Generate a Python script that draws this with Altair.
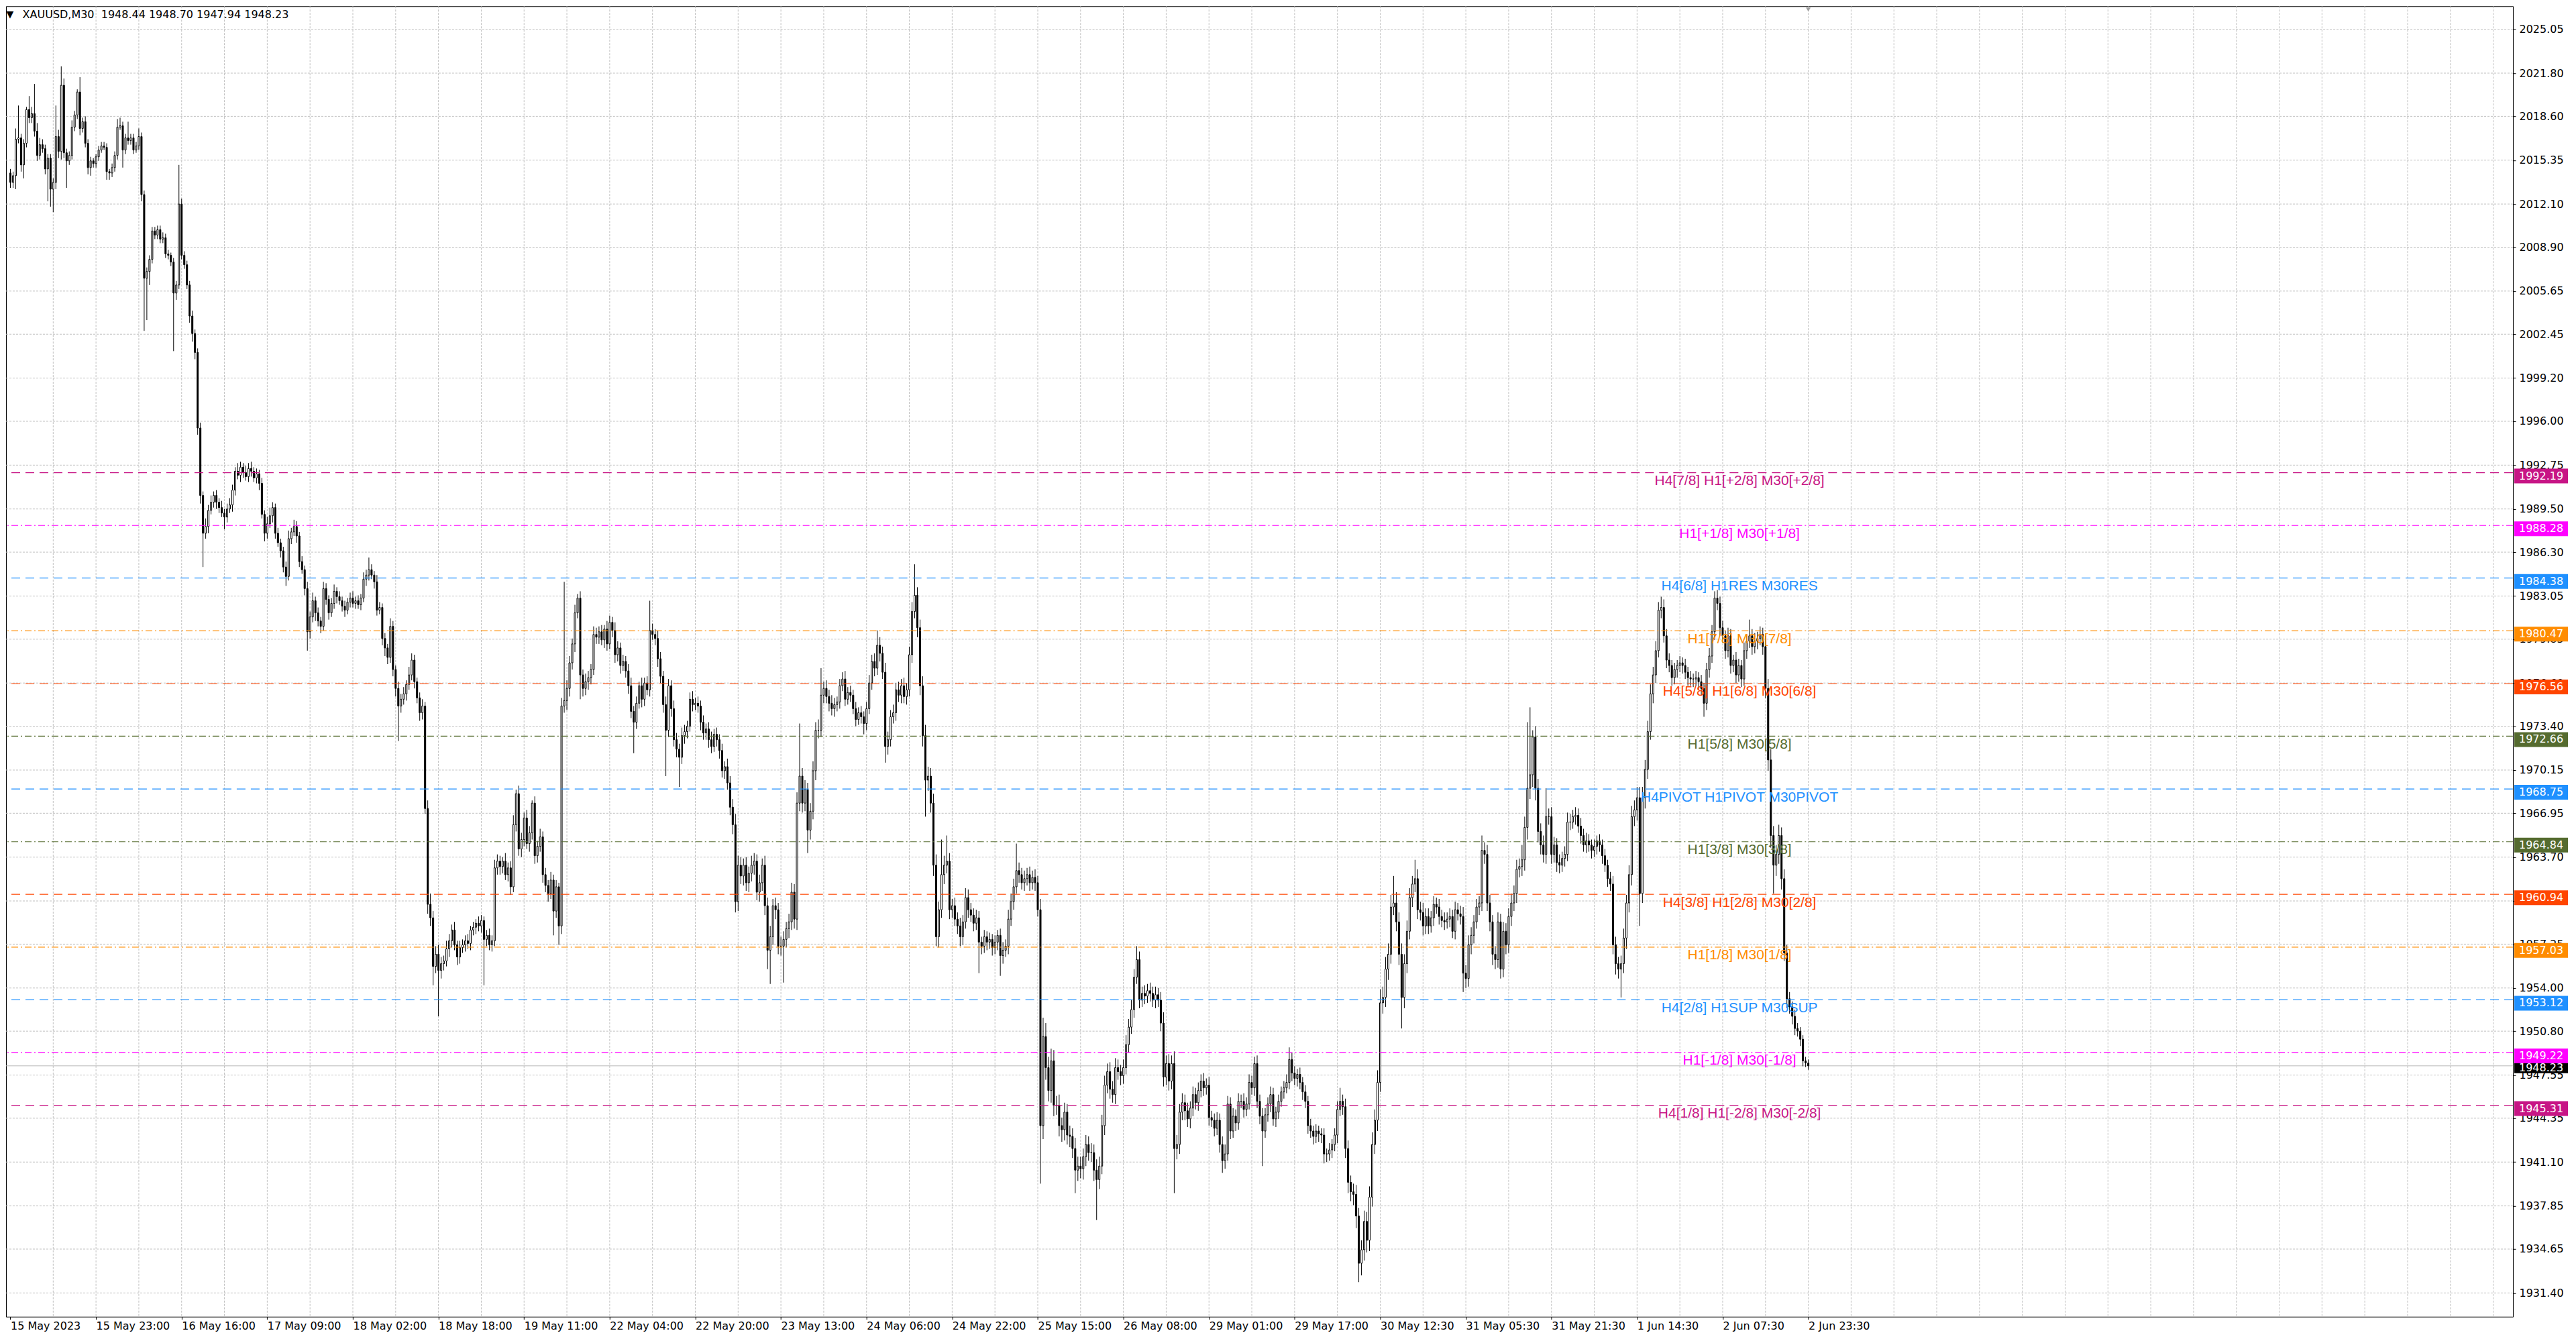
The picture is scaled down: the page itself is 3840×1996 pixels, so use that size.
import json
import altair as alt
import pandas as pd

SYMBOL = "XAUUSD,M30"
LAST_OHLC = [1948.44, 1948.70, 1947.94, 1948.23]
CURRENT_PRICE = 1948.23

TIME_LABELS = ["15 May 2023", "15 May 23:00", "16 May 16:00", "17 May 09:00", "18 May 02:00",
               "18 May 18:00", "19 May 11:00", "22 May 04:00", "22 May 20:00", "23 May 13:00",
               "24 May 06:00", "24 May 22:00", "25 May 15:00", "26 May 08:00", "29 May 01:00",
               "29 May 17:00", "30 May 12:30", "31 May 05:30", "31 May 21:30", "1 Jun 14:30",
               "2 Jun 07:30", "2 Jun 23:30"]

Y_TICKS = [2025.05, 2021.80, 2018.60, 2015.35, 2012.10, 2008.90, 2005.65, 2002.45, 1999.20, 1996.00,
           1992.75, 1989.50, 1986.30, 1983.05, 1979.85, 1976.60, 1973.40, 1970.15, 1966.95, 1963.70,
           1960.45, 1957.25, 1954.00, 1950.80, 1947.55, 1944.35, 1941.10, 1937.85, 1934.65, 1931.40]

FIRST_OPEN = 2014.4
CLOSE = [
    2013.7, 2014.2, 2016.9, 2017.0, 2015.0, 2016.6, 2019.1, 2018.5, 2018.8, 2017.5,
    2015.7, 2016.5, 2016.2, 2014.7, 2015.5, 2013.2, 2013.7, 2017.1, 2016.0, 2020.9,
    2015.9, 2015.3, 2015.7, 2017.8, 2018.7, 2020.4, 2017.7, 2018.2, 2016.6, 2014.8,
    2015.3, 2015.1, 2015.6, 2016.1, 2016.4, 2016.3, 2014.5, 2014.4, 2014.8, 2015.7,
    2017.8, 2017.9, 2016.1, 2017.0, 2016.8, 2017.0, 2016.1, 2016.4, 2017.1, 2012.8,
    2006.6, 2007.1, 2008.0, 2010.1, 2009.8, 2010.2, 2009.5, 2009.6, 2008.4, 2008.3,
    2007.8, 2005.5, 2006.1, 2012.1, 2008.3, 2007.6, 2006.1, 2003.8, 2002.5, 2001.1,
    1995.5, 1990.5, 1987.7, 1988.2, 1989.4, 1990.0, 1990.5, 1990.0, 1989.6, 1989.2,
    1988.9, 1989.5, 1989.8, 1990.9, 1992.3, 1992.0, 1992.6, 1992.2, 1991.9, 1992.5,
    1992.3, 1991.8, 1992.1, 1991.4, 1989.1, 1987.7, 1988.4, 1989.0, 1989.6, 1987.7,
    1987.0, 1986.4, 1985.2, 1984.5, 1987.3, 1987.8, 1988.2, 1987.5, 1985.6, 1985.0,
    1983.6, 1980.4, 1981.5, 1982.7, 1981.8, 1981.2, 1980.8, 1983.6, 1982.8, 1981.8,
    1982.5, 1983.4, 1983.0, 1982.7, 1982.3, 1982.0, 1982.6, 1982.9, 1982.5, 1982.7,
    1982.4, 1982.9, 1984.3, 1984.6, 1985.0, 1984.6, 1984.1, 1982.0, 1982.2, 1979.9,
    1979.2, 1978.5, 1980.8, 1977.6, 1976.2, 1974.9, 1975.4, 1975.8, 1976.5, 1977.2,
    1978.3, 1976.7, 1975.5, 1974.4, 1974.9, 1967.3, 1960.2, 1959.2, 1955.6, 1956.5,
    1955.3, 1955.8, 1956.0, 1956.9, 1957.5, 1958.3, 1957.2, 1956.3, 1957.0, 1957.2,
    1957.5, 1957.3, 1958.3, 1958.5, 1958.8, 1958.6, 1959.0, 1957.6, 1957.9, 1957.2,
    1957.5, 1962.9, 1963.4, 1963.0, 1963.4, 1962.4, 1962.9, 1961.5, 1966.1, 1968.4,
    1964.3, 1965.0, 1966.6, 1964.7, 1965.5, 1967.7, 1963.8, 1964.5, 1965.2, 1962.4,
    1961.6, 1961.0, 1962.0, 1959.7, 1961.5, 1958.6, 1974.9, 1975.3, 1976.2, 1978.1,
    1979.5, 1981.8, 1982.9, 1977.2, 1976.2, 1976.7, 1977.0, 1977.6, 1980.2, 1980.0,
    1980.4, 1979.8, 1980.6, 1979.5, 1981.1, 1980.5, 1978.7, 1979.2, 1977.9, 1978.2,
    1977.5, 1976.4, 1974.5, 1973.7, 1975.1, 1976.4, 1975.4, 1976.6, 1976.1, 1980.5,
    1980.2, 1979.9, 1978.4, 1977.1, 1975.0, 1973.1, 1976.4, 1974.7, 1972.4, 1971.7,
    1971.1, 1972.7, 1973.0, 1973.4, 1975.4, 1975.0, 1975.1, 1974.9, 1973.7, 1972.9,
    1973.2, 1972.4, 1971.9, 1972.8, 1972.4, 1971.6, 1970.1, 1970.4, 1969.2, 1967.4,
    1966.1, 1960.4, 1963.1, 1962.3, 1963.1, 1961.8, 1962.5, 1963.1, 1963.4, 1961.1,
    1961.8, 1963.1, 1960.1, 1956.8, 1957.8, 1960.1, 1959.8, 1957.1, 1957.1, 1957.6,
    1958.4, 1958.9, 1961.1, 1959.1, 1967.7, 1969.7, 1967.7, 1968.7, 1965.7, 1967.1,
    1970.1, 1973.1, 1973.1, 1975.7, 1976.2, 1975.6, 1975.1, 1974.7, 1975.0, 1975.2,
    1976.4, 1976.9, 1975.4, 1975.9, 1975.7, 1974.7, 1973.9, 1974.4, 1974.1, 1973.6,
    1974.7, 1976.6, 1978.2, 1977.7, 1979.4, 1978.8, 1977.4, 1971.9, 1972.4, 1974.1,
    1974.4, 1976.1, 1975.7, 1976.4, 1975.6, 1976.1, 1978.7, 1981.9, 1983.1, 1980.7,
    1976.4, 1972.7, 1969.4, 1969.7, 1967.7, 1963.1, 1957.8, 1959.8, 1962.4, 1963.1,
    1963.4, 1959.8, 1960.1, 1959.1, 1958.6, 1957.8, 1958.9, 1960.7, 1959.8, 1959.4,
    1958.8, 1959.2, 1957.4, 1957.1, 1957.8, 1957.4, 1957.6, 1957.0, 1957.4, 1957.9,
    1956.4, 1956.8, 1957.1, 1959.1, 1960.4, 1961.5, 1962.7, 1962.4, 1961.8, 1962.1,
    1962.4, 1961.8, 1962.2, 1961.8, 1959.8, 1943.8, 1950.4, 1948.1, 1946.4, 1948.6,
    1945.3, 1945.3, 1943.8, 1943.5, 1944.8, 1943.1, 1943.0, 1942.1, 1940.5, 1940.8,
    1940.6, 1941.5, 1942.4, 1941.8, 1941.8, 1940.5, 1939.8, 1940.8, 1943.8, 1946.8,
    1947.8, 1946.5, 1946.1, 1948.1, 1947.8, 1947.5, 1948.1, 1949.8, 1951.1, 1952.4,
    1954.8, 1956.1, 1953.1, 1953.6, 1953.4, 1953.8, 1953.6, 1953.1, 1953.5, 1953.1,
    1951.4, 1947.4, 1948.4, 1947.1, 1948.4, 1942.1, 1942.4, 1944.8, 1945.5, 1944.9,
    1944.3, 1945.1, 1946.1, 1945.5, 1946.4, 1947.1, 1946.6, 1946.8, 1944.4, 1944.2,
    1943.6, 1944.2, 1942.4, 1941.2, 1941.7, 1945.4, 1943.4, 1944.5, 1944.0, 1945.6,
    1945.6, 1945.0, 1945.4, 1947.0, 1946.6, 1948.4, 1945.6, 1944.5, 1943.4, 1944.6,
    1945.4, 1946.1, 1944.3, 1944.8, 1945.6, 1946.3, 1946.6, 1947.0, 1948.7, 1947.7,
    1947.3, 1947.6, 1947.0, 1946.3, 1945.6, 1943.8, 1943.4, 1943.0, 1943.4, 1943.2,
    1943.1, 1941.7, 1941.7, 1942.0, 1942.4, 1943.1, 1945.0, 1945.6, 1945.2, 1942.1,
    1939.6, 1938.9, 1938.7, 1937.1, 1933.6, 1934.6, 1936.7, 1935.3, 1938.5, 1942.4,
    1944.2, 1947.0, 1952.9, 1953.3, 1955.4, 1956.5, 1960.0, 1960.3, 1958.9, 1956.5,
    1953.3, 1955.8, 1958.2, 1960.7, 1961.7, 1962.1, 1959.8, 1959.6, 1958.6, 1959.3,
    1958.6, 1959.2, 1960.2, 1960.0, 1959.3, 1959.0, 1958.9, 1959.1, 1959.3, 1958.2,
    1959.8, 1959.5, 1959.3, 1955.1, 1954.7, 1957.2, 1957.9, 1958.9, 1960.0, 1960.3,
    1964.2, 1963.9, 1960.3, 1958.9, 1956.5, 1956.1, 1958.9, 1955.4, 1958.2, 1957.2,
    1959.3, 1960.3, 1961.0, 1962.8, 1963.0, 1963.5, 1965.9, 1968.8, 1969.8, 1972.6,
    1968.8, 1965.6, 1964.6, 1963.9, 1966.7, 1966.7, 1963.9, 1964.6, 1963.3, 1963.1,
    1963.6, 1963.9, 1966.3, 1966.3, 1966.7, 1966.8, 1966.0, 1965.3, 1964.6, 1964.9,
    1964.6, 1964.2, 1964.5, 1964.9, 1964.6, 1963.8, 1963.1, 1962.1, 1961.7, 1957.2,
    1955.8, 1955.4, 1955.8, 1957.7, 1960.3, 1962.4, 1966.7, 1967.2, 1968.1, 1961.0,
    1968.1, 1970.2, 1973.0, 1975.8, 1977.2, 1979.0, 1982.0, 1982.2, 1980.1, 1978.3,
    1977.9, 1977.0, 1977.6, 1977.9, 1978.1, 1977.9, 1977.4, 1977.0, 1976.9, 1976.9,
    1977.0, 1976.7, 1976.2, 1975.1, 1977.6, 1978.6, 1980.4, 1982.9, 1982.5, 1980.7,
    1980.1, 1979.0, 1980.1, 1977.9, 1978.3, 1977.2, 1977.9, 1976.9, 1979.0, 1979.7,
    1980.1, 1979.3, 1979.7, 1979.9, 1980.2, 1979.3, 1976.2, 1970.9, 1965.3, 1963.1,
    1963.9, 1965.3, 1962.1, 1956.6, 1953.2, 1952.6, 1951.9, 1951.0, 1950.8, 1950.2,
    1948.6, 1948.44, 1948.23,
]

# upper / lower wick lengths, in tenths of a dollar
UP_WICK = [
    3, 3, 8, 24, 3, 3, 2, 10, 5, 22,  6, 5, 4, 3, 3, 3, 3, 23, 5, 14,
    5, 3, 3, 5, 3, 2, 11, 3, 4, 3,  3, 2, 2, 3, 3, 3, 3, 2, 3, 3,
    6, 6, 3, 3, 12, 3, 3, 3, 6, 3,  3, 3, 3, 3, 3, 3, 3, 4, 3, 3,
    2, 3, 3, 29, 4, 3, 3, 3, 4, 3,  3, 4, 3, 6, 4, 5, 3, 4, 3, 5,
    3, 4, 5, 4, 3, 6, 4, 3, 5, 4,  5, 3, 4, 3, 4, 3, 5, 6, 4, 3,
    4, 3, 3, 4, 6, 3, 5, 4, 3, 4,  3, 5, 4, 6, 3, 4, 3, 5, 4, 3,
    4, 5, 3, 4, 3, 4, 3, 4, 5, 3,  4, 3, 5, 4, 9, 4, 3, 5, 4, 3,
    4, 3, 6, 4, 3, 5, 4, 5, 3, 6,  5, 4, 3, 4, 5, 3, 6, 8, 5, 6,
    7, 5, 4, 6, 5, 4, 6, 3, 5, 4,  4, 5, 3, 4, 3, 5, 4, 3, 4, 5,
    4, 6, 5, 4, 3, 6, 4, 5, 7, 3,  6, 5, 4, 6, 5, 2, 5, 4, 6, 4,
    5, 4, 6, 4, 5, 3, 6, 88, 6, 5,  4, 6, 3, 5, 4, 6, 5, 4, 6, 5,
    4, 5, 3, 6, 5, 4, 6, 5, 4, 5,  4, 5, 6, 4, 5, 3, 6, 4, 5, 22,
    5, 4, 6, 5, 4, 6, 5, 4, 6, 5,  4, 6, 5, 4, 5, 6, 4, 5, 4, 5,
    4, 5, 6, 4, 5, 4, 5, 4, 6, 5,  6, 8, 7, 6, 5, 6, 5, 7, 6, 5,
    6, 5, 7, 6, 8, 5, 6, 5, 7, 6,  5, 6, 7, 6, 8, 39, 6, 7, 5, 6,
    7, 6, 8, 20, 5, 6, 5, 6, 5, 4,  5, 5, 6, 4, 5, 4, 5, 4, 5, 4,
    5, 6, 5, 6, 11, 6, 5, 7, 6, 5,  6, 5, 6, 5, 6, 5, 6, 7, 23, 6,
    6, 7, 8, 7, 6, 7, 8, 6, 26, 7,  19, 6, 5, 6, 5, 6, 5, 7, 6, 5,
    5, 6, 5, 4, 5, 4, 5, 4, 5, 4,  5, 6, 5, 7, 6, 6, 20, 6, 5, 6,
    5, 6, 5, 6, 5, 8, 14, 10, 8, 9,  8, 7, 8, 6, 7, 6, 7, 6, 8, 7,
    7, 6, 7, 6, 7, 6, 8, 7, 8, 7,  6, 7, 6, 7, 6, 5, 6, 7, 6, 7,
    6, 10, 6, 5, 6, 5, 6, 5, 6, 5,  6, 8, 6, 7, 6, 9, 7, 6, 7, 6,
    6, 5, 6, 5, 6, 5, 6, 5, 6, 5,  5, 6, 5, 6, 7, 6, 5, 6, 5, 6,
    5, 6, 5, 6, 5, 5, 6, 5, 6, 5,  5, 6, 5, 4, 5, 4, 5, 6, 9, 5,
    5, 4, 5, 4, 5, 4, 5, 4, 5, 4,  4, 5, 4, 5, 4, 5, 6, 10, 5, 6,
    6, 5, 6, 7, 6, 7, 8, 7, 8, 9,  8, 9, 10, 8, 9, 8, 9, 20, 8, 7,
    8, 7, 8, 7, 6, 14, 7, 6, 7, 6,  6, 5, 6, 5, 6, 5, 6, 5, 6, 5,
    6, 5, 6, 7, 6, 7, 6, 5, 6, 5,  11, 6, 7, 6, 5, 6, 7, 6, 7, 6,
    6, 7, 6, 7, 6, 11, 8, 49, 50, 5,  8, 7, 6, 7, 21, 6, 7, 6, 5, 6,
    5, 6, 7, 6, 5, 6, 5, 6, 5, 6,  5, 4, 5, 4, 5, 4, 5, 4, 5, 6,
    6, 5, 6, 7, 6, 7, 8, 7, 8, 8,  8, 7, 8, 7, 6, 7, 6, 8, 6, 5,
    5, 4, 5, 4, 5, 4, 5, 4, 5, 4,  5, 4, 5, 4, 5, 6, 5, 5, 6, 5,
    5, 4, 6, 5, 4, 6, 5, 4, 6, 5,  12, 5, 6, 5, 6, 5, 8, 7, 8, 7,
    7, 8, 6, 7, 6, 5, 4, 5, 4, 3,  3, 3, 3,
]
DN_WICK = [
    4, 4, 10, 3, 5, 10, 3, 4, 4, 4,  4, 3, 3, 4, 24, 13, 17, 5, 5, 6,
    4, 20, 3, 3, 3, 3, 5, 3, 3, 5,  6, 3, 3, 3, 2, 2, 6, 5, 3, 3,
    3, 2, 13, 3, 3, 3, 3, 2, 3, 5,  39, 31, 10, 3, 3, 3, 3, 3, 3, 3,
    3, 43, 5, 3, 3, 3, 3, 5, 6, 5,  5, 6, 25, 4, 5, 3, 4, 5, 4, 3,
    9, 4, 3, 5, 4, 3, 5, 4, 3, 4,  4, 3, 4, 5, 3, 6, 4, 3, 5, 4,
    3, 5, 4, 7, 3, 4, 3, 5, 4, 3,  5, 14, 5, 4, 6, 4, 5, 3, 4, 5,
    3, 4, 5, 3, 4, 5, 3, 4, 3, 4,  3, 4, 3, 5, 4, 3, 5, 4, 3, 5,
    6, 5, 4, 5, 6, 26, 5, 4, 5, 4,  4, 5, 4, 6, 5, 4, 7, 6, 14, 5,
    34, 6, 5, 4, 6, 5, 4, 6, 5, 4,  5, 4, 5, 4, 5, 4, 5, 34, 5, 4,
    5, 4, 5, 6, 5, 4, 5, 6, 4, 5,  5, 6, 5, 4, 6, 5, 6, 5, 4, 6,
    5, 6, 4, 18, 5, 14, 6, 5, 7, 6,  5, 6, 4, 18, 6, 5, 6, 5, 4, 5,
    5, 4, 6, 5, 4, 5, 6, 5, 6, 4,  5, 6, 5, 23, 5, 4, 6, 5, 4, 5,
    4, 5, 6, 5, 6, 34, 5, 6, 5, 6,  22, 5, 6, 5, 4, 5, 4, 5, 6, 5,
    5, 6, 5, 4, 5, 6, 5, 6, 5, 6,  7, 8, 7, 6, 7, 6, 7, 6, 7, 6,
    7, 6, 7, 14, 25, 6, 7, 6, 7, 27,  6, 7, 6, 7, 8, 6, 7, 6, 17, 7,
    6, 7, 6, 5, 6, 5, 6, 5, 6, 5,  5, 4, 5, 4, 5, 4, 5, 4, 5, 8,
    5, 4, 5, 6, 5, 6, 5, 12, 6, 5,  5, 6, 5, 6, 5, 6, 5, 6, 5, 7,
    7, 8, 27, 8, 7, 8, 7, 8, 6, 7,  6, 7, 6, 5, 6, 7, 6, 5, 6, 5,
    6, 5, 23, 6, 5, 6, 5, 6, 5, 6,  15, 6, 5, 6, 5, 6, 5, 6, 5, 6,
    5, 6, 5, 6, 5, 43, 10, 9, 8, 9,  8, 7, 8, 9, 8, 7, 8, 7, 17, 8,
    7, 8, 7, 6, 7, 8, 30, 7, 6, 7,  6, 7, 6, 7, 6, 7, 6, 5, 6, 5,
    6, 5, 6, 5, 6, 5, 6, 5, 6, 5,  6, 7, 6, 7, 6, 33, 8, 7, 6, 7,
    6, 7, 6, 5, 6, 5, 6, 5, 6, 5,  6, 5, 6, 9, 6, 5, 6, 5, 6, 5,
    5, 6, 5, 4, 5, 6, 5, 6, 26, 5,  5, 6, 5, 6, 5, 4, 5, 4, 5, 6,
    5, 6, 5, 6, 5, 6, 5, 6, 5, 6,  6, 7, 6, 5, 6, 5, 6, 5, 6, 7,
    8, 7, 8, 9, 14, 9, 8, 9, 8, 7,  7, 8, 7, 8, 7, 8, 7, 6, 7, 8,
    23, 8, 7, 6, 7, 6, 7, 6, 7, 6,  6, 5, 6, 5, 6, 5, 6, 5, 6, 5,
    6, 5, 6, 14, 7, 6, 7, 6, 5, 6,  6, 7, 6, 7, 8, 7, 6, 7, 6, 7,
    6, 7, 6, 7, 6, 7, 8, 9, 8, 9,  9, 8, 7, 6, 7, 6, 7, 6, 7, 6,
    5, 6, 5, 6, 5, 6, 5, 6, 5, 6,  5, 6, 5, 6, 5, 6, 5, 6, 5, 7,
    8, 7, 21, 7, 8, 7, 8, 7, 8, 24,  7, 8, 7, 6, 7, 6, 5, 6, 5, 6,
    5, 6, 5, 6, 5, 6, 5, 6, 5, 6,  5, 6, 5, 10, 5, 6, 5, 6, 5, 6,
    5, 6, 5, 6, 5, 6, 5, 6, 5, 6,  5, 6, 5, 6, 5, 6, 7, 8, 9, 21,
    8, 7, 8, 6, 7, 5, 6, 5, 4, 5,  4, 3, 3,
]

LEVEL_PRICE = [1992.19, 1988.28, 1984.38, 1980.47, 1976.56, 1972.66, 1968.75,
               1964.84, 1960.94, 1957.03, 1953.12, 1949.22, 1945.31]
LEVEL_TEXT = ["H4[7/8] H1[+2/8] M30[+2/8]", "H1[+1/8] M30[+1/8]", "H4[6/8] H1RES M30RES",
              "H1[7/8] M30[7/8]", "H4[5/8] H1[6/8] M30[6/8]", "H1[5/8] M30[5/8]",
              "H4PIVOT H1PIVOT M30PIVOT", "H1[3/8] M30[3/8]", "H4[3/8] H1[2/8] M30[2/8]",
              "H1[1/8] M30[1/8]", "H4[2/8] H1SUP M30SUP", "H1[-1/8] M30[-1/8]",
              "H4[1/8] H1[-2/8] M30[-2/8]"]
LEVEL_COLOR = ["#C71585", "#FF00FF", "#1E90FF", "#FF8C00", "#FF4500", "#556B2F", "#1E90FF",
               "#556B2F", "#FF4500", "#FF8C00", "#1E90FF", "#FF00FF", "#C71585"]
LEVEL_STYLE = ["dash", "dashdot", "dash", "dashdot", "dash", "dashdot", "dash",
               "dashdot", "dash", "dashdot", "dash", "dashdot", "dash"]

# ---------------- layout ----------------
W, H = 3738, 1954
BAR_PX = 4
X0 = -0.375
X_DOMAIN = [X0, X0 + W / BAR_PX]
Y_DOMAIN = [1929.64, 2026.76]
LABEL_BAR = 646.3
LABEL_STEP = 32
GRID_STEP = 16
FONT = "DejaVu Sans"

n = len(CLOSE)
assert n == len(UP_WICK) == len(DN_WICK), (n, len(UP_WICK), len(DN_WICK))

opens = [FIRST_OPEN] + CLOSE[:-1]
rows = []
for i in range(n):
    o, c = opens[i], CLOSE[i]
    rows.append(dict(i=i, o=o, c=c,
                     hi=max(o, c) + UP_WICK[i] / 10.0,
                     lo=min(o, c) - DN_WICK[i] / 10.0))
rows[-1].update(o=LAST_OHLC[0], hi=LAST_OHLC[1], lo=LAST_OHLC[2], c=LAST_OHLC[3])
bars = pd.DataFrame(rows)

levels = pd.DataFrame({"p": LEVEL_PRICE, "text": LEVEL_TEXT, "color": LEVEL_COLOR,
                       "style": LEVEL_STYLE, "lx": [LABEL_BAR] * len(LEVEL_PRICE)})

x_axis = alt.Axis(values=list(range(0, n, LABEL_STEP)),
                  labelExpr=f"{json.dumps(TIME_LABELS)}[round(datum.value / {LABEL_STEP})]",
                  title=None, grid=False, domain=False, ticks=True, tickSize=4,
                  tickColor="black", labelAlign="left", labelPadding=2,
                  labelFlush=False, labelOverlap=False)
y_axis = alt.Axis(orient="right", values=Y_TICKS, format=".2f", title=None, grid=False,
                  domain=False, tickSize=4, tickColor="black", labelPadding=5,
                  labelOverlap=False, labelFlush=False, labelBaseline="middle")


def X(field):
    return alt.X(f"{field}:Q", scale=alt.Scale(domain=X_DOMAIN, nice=False, zero=False), axis=x_axis)


def Y(field):
    return alt.Y(f"{field}:Q", scale=alt.Scale(domain=Y_DOMAIN, nice=False, zero=False), axis=y_axis)


grid_color = "#c0c0c0"
vgrid = alt.Chart(pd.DataFrame({"i": list(range(GRID_STEP, int(X_DOMAIN[1]), GRID_STEP))})).mark_rule(
    color=grid_color, strokeDash=[3, 2], strokeWidth=1).encode(x=X("i"))
hgrid = alt.Chart(pd.DataFrame({"p": Y_TICKS})).mark_rule(
    color=grid_color, strokeDash=[3, 2], strokeWidth=1).encode(y=Y("p"))
cur_line = alt.Chart(pd.DataFrame({"p": [CURRENT_PRICE]})).mark_rule(
    color="#b8b8b8", strokeWidth=1).encode(y=Y("p"))

wicks = alt.Chart(bars).mark_rule(color="black", strokeWidth=1).encode(
    x=X("i"), y=Y("lo"), y2="hi:Q")
bodies = alt.Chart(bars).mark_bar(size=2, stroke="black", strokeWidth=1).encode(
    x=X("i"), y=Y("o"), y2="c:Q",
    fill=alt.condition("datum.c >= datum.o", alt.value("white"), alt.value("black")))

dash_lines = alt.Chart(levels).transform_filter("datum.style == 'dash'").mark_rule(
    strokeDash=[13, 8], strokeWidth=1.2).encode(y=Y("p"), color=alt.Color("color:N", scale=None))
dashdot_lines = alt.Chart(levels).transform_filter("datum.style == 'dashdot'").mark_rule(
    strokeDash=[10, 4, 2, 4], strokeWidth=1.2).encode(y=Y("p"), color=alt.Color("color:N", scale=None))

level_labels = alt.Chart(levels).mark_text(
    font="Liberation Sans", fontSize=21, align="center", baseline="alphabetic", dy=18.5).encode(
    x=X("lx"), y=Y("p"), text="text:N", color=alt.Color("color:N", scale=None))

cur_df = pd.DataFrame({"p": [CURRENT_PRICE]})
cur_box = alt.Chart(cur_df).mark_rect(color="black", yOffset=-11, y2Offset=11).encode(
    x=alt.value(W + 2), x2=alt.value(W + 82), y=Y("p"), y2="p:Q")
cur_txt = alt.Chart(cur_df).mark_text(
    color="white", font=FONT, fontSize=16, align="center", baseline="middle", dy=3).encode(
    x=alt.value(W + 42), y=Y("p"), text=alt.Text("p:Q", format=".2f"))

lvl_box = alt.Chart(levels).mark_rect(yOffset=-6, y2Offset=16).encode(
    x=alt.value(W + 2), x2=alt.value(W + 82), y=Y("p"), y2="p:Q",
    color=alt.Color("color:N", scale=None))
lvl_txt = alt.Chart(levels).mark_text(
    color="white", font=FONT, fontSize=16, align="center", baseline="middle", dy=5).encode(
    x=alt.value(W + 42), y=Y("p"), text=alt.Text("p:Q", format=".2f"))

title_text = f"{SYMBOL}\u00a0 " + " ".join(f"{v:.2f}" for v in LAST_OHLC)
title = alt.Chart(pd.DataFrame({"t": [title_text]})).mark_text(
    align="left", baseline="middle", font=FONT, fontSize=16, color="black").encode(
    x=alt.value(24.6), y=alt.value(12.7), text="t:N")
tri = alt.Chart(pd.DataFrame({"t": ["\u25bc"]})).mark_text(
    align="center", baseline="middle", font=FONT, fontSize=14, color="black").encode(
    x=alt.value(6), y=alt.value(12.5), text="t:N")
# chart-shift marker, kept inside the plot so it does not push the layout down
shift_mark = alt.Chart(pd.DataFrame({"i": [n - 1]})).mark_point(
    shape="triangle-down", filled=True, color="#a0a0a0", size=50, opacity=1).encode(
    x=X("i"), y=alt.value(5))

chart = alt.layer(
    vgrid, hgrid, cur_line, wicks, bodies, dash_lines, dashdot_lines, level_labels,
    cur_box, cur_txt, lvl_box, lvl_txt, tri, title, shift_mark
).properties(
    width=W, height=H, background="white",
    padding={"left": 0, "top": 0, "right": 4, "bottom": 2},
).configure_view(stroke="black", strokeWidth=1).configure_axis(
    labelFont=FONT, labelFontSize=16, labelColor="black")

chart.save("out.html", embed_options={"renderer": "svg", "actions": False})
